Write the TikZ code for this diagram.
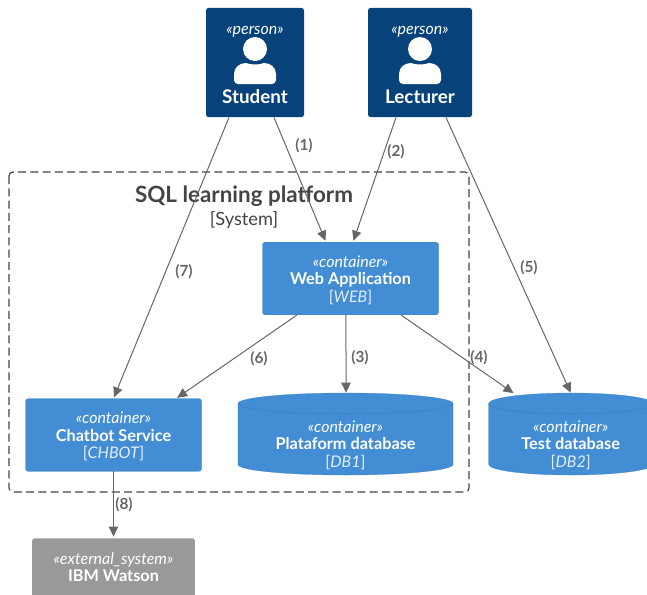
\documentclass[tikz,border=0pt]{standalone}
\usepackage{fontspec}
\setmainfont{Lato}
\usetikzlibrary{arrows.meta}

\definecolor{personblue}{HTML}{08427B}
\definecolor{contblue}{HTML}{438DD5}
\definecolor{contline}{HTML}{3C7FC0}
\definecolor{extgray}{HTML}{999999}
\definecolor{linegray}{HTML}{666666}
\definecolor{bndgray}{HTML}{444444}

\newcommand{\stereo}[1]{{\itshape «#1»}}
\newcommand{\bname}[1]{{\fontsize{12.2}{13.2}\selectfont\bfseries #1}}
\newcommand{\tech}[1]{{\color{white!85!contblue}[\textit{#1}]}}
\newcommand{\topgap}{\rule{0pt}{11pt}}

\tikzset{
	boxtext/.style={text=white, align=center, inner sep=0pt, font=\fontsize{12}{13.2}\selectfont},
	personbox/.style={fill=personblue, rounded corners=2pt, inner sep=0pt},
	contbox/.style={boxtext, fill=contblue, draw=contline, line width=0.2pt, rounded corners=2pt,
		minimum height=54.5pt, minimum width=132pt},
	dbbox/.style={inner sep=0pt, minimum height=61.5pt},
	extbox/.style={fill=extgray, rounded corners=2pt, inner sep=0pt},
	rel/.style={-{Triangle[length=7.5pt,width=7pt]}, linegray, line width=0.75pt, shorten >=1pt},
	numlabel/.style={text=linegray, font=\fontsize{11.5}{13}\selectfont\bfseries, inner sep=0pt}
}

\begin{document}
\begin{tikzpicture}[x=0.75pt, y=0.75pt]
	\clip (0, 0) rectangle (647, -594);

	% boundary
	\draw[bndgray, line width=0.9pt, rounded corners=3pt, dash pattern=on 6pt off 3.2pt] (9, -172) rectangle (469, -492);
	\node (bndtitle) [text=bndgray, font=\fontsize{16.8}{18}\selectfont\bfseries] at (244, -196) {SQL learning platform};
	\node (bndtype) [text=bndgray, font=\fontsize{13.7}{15}\selectfont] at (244, -220.5) {[System]};

	% people
	\node (student) [personbox, minimum width=73.5pt, minimum height=82pt] at (255, -62.5) {};
	\node (lecturer) [personbox, minimum width=78pt, minimum height=82pt] at (420, -62.5) {};

	\foreach \who/\cx in {student/255, lecturer/420} {
		\fill[white] (\cx, -49) circle (12);
		\fill[white] (\cx-21, -80) -- (\cx-21, -74) .. controls (\cx-21, -67) and (\cx-15, -63) .. (\cx-9, -63)
			.. controls (\cx-4, -65) and (\cx+4, -65) .. (\cx+9, -63)
			.. controls (\cx+15, -63) and (\cx+21, -67) .. (\cx+21, -74)
			-- (\cx+21, -80) arc (0:-90:4) -- (\cx-17, -84) arc (270:180:4) -- cycle;
		\node (\who stereo) [boxtext] at (\cx, -31.5) {\stereo{person}};
	}
	\node (studentname) [boxtext] at (255, -97) {\fontsize{14.1}{15}\selectfont\bfseries Student};
	\node (lecturername) [boxtext] at (420, -97) {\fontsize{14.1}{15}\selectfont\bfseries Lecturer};

	% containers
	\node (web) [contbox] at (350.5, -278.5) {\topgap\stereo{container}\\\bname{Web Application}\\\tech{WEB}};
	\node (chatbot) [contbox] at (113.5, -435) {\topgap\stereo{container}\\\bname{Chatbot Service}\\\tech{CHBOT}};

	\foreach \who/\cx/\rx in {dbone/345.5/107.5, dbtwo/570.7/82} {
		\node (\who) [dbbox, minimum width=1.5*\rx] at (\cx, -434) {};
		\filldraw[fill=contblue, draw=contline, line width=0.2pt] (\cx-\rx, -403.5)
			arc [start angle=180, end angle=0, x radius=\rx, y radius=10.5]
			-- (\cx+\rx, -464.5) arc [start angle=360, end angle=180, x radius=\rx, y radius=10.5] -- cycle;
		\draw[contline, line width=0.4pt] (\cx-\rx, -403.5) arc [start angle=180, end angle=360, x radius=\rx, y radius=10.5];
	}
	\node (dbonetext) [boxtext] at (345.5, -445) {\stereo{container}\\\bname{Plataform database}\\\tech{DB1}};
	\node (dbtwotext) [boxtext] at (570.7, -445) {\stereo{container}\\\bname{Test database}\\\tech{DB2}};

	\node (watson) [extbox, minimum width=122pt, minimum height=60pt, anchor=north] at (113.5, -538) {};
	\node (watsontext) [boxtext, anchor=north] at (113.5, -552) {\stereo{external\_system}\\\bname{IBM Watson}};

	% relations
	\draw[rel] ([xshift=14.25pt]student.south) -- ([xshift=-18.4pt]web.north);
	\draw[rel] ([xshift=-18pt]lecturer.south) -- ([xshift=1.9pt]web.north);
	\draw[rel] ([xshift=-40.1pt]web.south) -- ([xshift=46.9pt]chatbot.north);
	\draw[rel, shorten >=0pt] ([xshift=-3.4pt]web.south) -- ([xshift=0.4pt]dbone.north);
	\draw[rel, shorten >=-0.5pt] ([xshift=37.9pt]web.south) -- ([xshift=-43.3pt]dbtwo.north);
	\draw[rel, shorten >=0pt] ([xshift=19.5pt]lecturer.south) -- (dbtwo.north);
	\draw[rel] ([xshift=-19.5pt]student.south) -- (chatbot.north);
	\draw[rel] (chatbot.south) -- (watson.north);

	\node (numa) [numlabel] at (304, -146) {(1)};
	\node (numb) [numlabel] at (396, -152) {(2)};
	\node (numc) [numlabel] at (360, -358) {(3)};
	\node (numd) [numlabel] at (479, -358) {(4)};
	\node (nume) [numlabel] at (529, -268) {(5)};
	\node (numf) [numlabel] at (259, -359) {(6)};
	\node (numg) [numlabel] at (184, -272) {(7)};
	\node (numh) [numlabel] at (124, -505) {(8)};
\end{tikzpicture}
\end{document}
